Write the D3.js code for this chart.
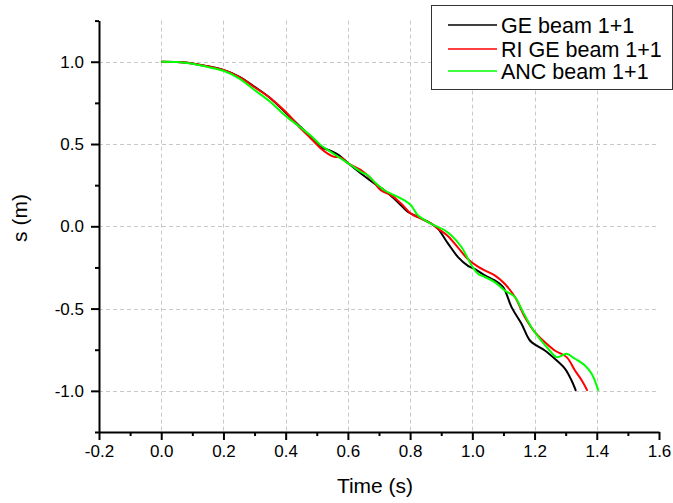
<!DOCTYPE html>
<html>
<head>
<meta charset="utf-8">
<script src="https://cdn.jsdelivr.net/npm/d3@7"></script>
<style>
  body { margin: 0; background: #fff; }
  svg { display: block; font-family: "Liberation Sans", Arial, sans-serif; }
</style>
</head>
<body>
<svg id="chart" width="673" height="503"></svg>
<script>
// series data: [time (s), s (m)]
const geBeam = [
  [0, 1.0], [0.05, 0.998], [0.1, 0.99], [0.15, 0.972], [0.2, 0.95], [0.25, 0.91],
  [0.3, 0.848], [0.35, 0.78], [0.4, 0.69], [0.448, 0.604], [0.481, 0.544], [0.513, 0.483],
  [0.545, 0.458], [0.572, 0.432], [0.602, 0.381], [0.642, 0.321], [0.685, 0.26],
  [0.717, 0.219], [0.76, 0.148], [0.793, 0.087], [0.825, 0.057], [0.868, 0.016],
  [0.889, -0.014], [0.922, -0.105], [0.954, -0.187], [0.986, -0.24], [1.01, -0.262],
  [1.04, -0.298], [1.072, -0.329], [1.099, -0.369], [1.126, -0.491], [1.158, -0.592],
  [1.185, -0.694], [1.206, -0.724], [1.233, -0.755], [1.265, -0.805], [1.298, -0.866],
  [1.319, -0.937], [1.333, -1.0]
];
const riGeBeam = [
  [0, 1.0], [0.05, 0.998], [0.1, 0.99], [0.15, 0.972], [0.2, 0.95], [0.25, 0.908],
  [0.3, 0.845], [0.35, 0.78], [0.4, 0.696], [0.448, 0.595], [0.481, 0.534], [0.513, 0.473],
  [0.535, 0.442], [0.556, 0.422], [0.577, 0.418], [0.602, 0.381], [0.642, 0.341],
  [0.674, 0.29], [0.706, 0.219], [0.739, 0.189], [0.771, 0.138], [0.803, 0.077],
  [0.835, 0.047], [0.868, 0.016], [0.889, -0.014], [0.922, -0.06], [0.954, -0.13],
  [0.986, -0.2], [1.018, -0.245], [1.04, -0.268], [1.072, -0.298], [1.104, -0.349],
  [1.137, -0.43], [1.169, -0.552], [1.201, -0.643], [1.233, -0.704], [1.265, -0.755],
  [1.303, -0.795], [1.33, -0.876], [1.352, -0.937], [1.37, -1.0]
];
const ancBeam = [
  [0, 1.0], [0.05, 0.998], [0.1, 0.988], [0.15, 0.968], [0.2, 0.945], [0.25, 0.899],
  [0.3, 0.828], [0.35, 0.757], [0.4, 0.67], [0.448, 0.6], [0.481, 0.55], [0.513, 0.493],
  [0.545, 0.452], [0.577, 0.412], [0.61, 0.371], [0.642, 0.331], [0.664, 0.31],
  [0.685, 0.27], [0.717, 0.219], [0.749, 0.189], [0.782, 0.158], [0.803, 0.128],
  [0.825, 0.067], [0.857, 0.026], [0.889, -0.004], [0.911, -0.024], [0.932, -0.055],
  [0.965, -0.126], [0.997, -0.235], [1.018, -0.288], [1.04, -0.308], [1.072, -0.339],
  [1.104, -0.39], [1.137, -0.43], [1.163, -0.521], [1.19, -0.613], [1.217, -0.684],
  [1.244, -0.744], [1.271, -0.795], [1.303, -0.775], [1.33, -0.805], [1.362, -0.846],
  [1.384, -0.897], [1.405, -1.0]
];
const seriesNames = ['GE beam 1+1', 'RI GE beam 1+1', 'ANC beam 1+1'];
const seriesColors = ['#000000', '#ff0000', '#00ff00'];
const xTicks = [-0.2, 0, 0.2, 0.4, 0.6, 0.8, 1.0, 1.2, 1.4, 1.6];
const xMinor = [-0.1, 0.1, 0.3, 0.5, 0.7, 0.9, 1.1, 1.3, 1.5];
const yTicks = [-1.0, -0.5, 0, 0.5, 1.0];
const yMinor = [-1.25, -0.75, -0.25, 0.25, 0.75, 1.25];

const svg = d3.select('#chart');

const x = d3.scaleLinear().domain([-0.2, 1.6]).range([99, 659]);
const y = d3.scaleLinear().domain([-1.25, 1.25]).range([432, 20.6]);

// dashed grid
const grid = svg.append('g').attr('stroke', '#c8c8c8').attr('stroke-dasharray', '4,3').attr('stroke-width', 1);
grid.selectAll('.vg')
  .data(xTicks.filter(d => d > -0.2 && d < 1.6))
  .enter().append('line')
  .attr('x1', d => Math.round(x(d)) + 0.5).attr('x2', d => Math.round(x(d)) + 0.5)
  .attr('y1', y.range()[1]).attr('y2', y.range()[0]);
grid.selectAll('.hg')
  .data(yTicks)
  .enter().append('line')
  .attr('y1', d => Math.round(y(d)) + 0.5).attr('y2', d => Math.round(y(d)) + 0.5)
  .attr('x1', x.range()[0]).attr('x2', x.range()[1]);

// curves
const line = d3.line()
  .x(d => x(d[0]))
  .y(d => y(d[1]))
  .curve(d3.curveCatmullRom);

[geBeam, riGeBeam, ancBeam].forEach((s, i) => {
  svg.append('path')
    .datum(s)
    .attr('fill', 'none')
    .attr('stroke', seriesColors[i])
    .attr('stroke-width', 2)
    .attr('d', line);
});

// axes (plain hyphen for negatives, like the original)
const fmt = d => d3.format('.1f')(d).replace('−', '-');
svg.append('g')
  .attr('transform', `translate(0,${y.range()[0]})`)
  .call(d3.axisBottom(x).tickValues(xTicks).tickFormat(fmt).tickSize(8).tickSizeOuter(0).tickPadding(5));
svg.append('g')
  .attr('transform', `translate(0,${y.range()[0]})`)
  .call(d3.axisBottom(x).tickValues(xMinor).tickFormat('').tickSize(4).tickSizeOuter(0))
  .call(g => g.select('.domain').remove());

svg.append('g')
  .attr('transform', `translate(${x.range()[0]},0)`)
  .call(d3.axisLeft(y).tickValues(yTicks).tickFormat(fmt).tickSize(8).tickSizeOuter(0).tickPadding(7));
svg.append('g')
  .attr('transform', `translate(${x.range()[0]},0)`)
  .call(d3.axisLeft(y).tickValues(yMinor).tickFormat('').tickSize(4).tickSizeOuter(0))
  .call(g => g.select('.domain').remove());

svg.selectAll('.domain, .tick line').attr('stroke', '#000').attr('stroke-width', 2);
svg.selectAll('.tick text')
  .attr('fill', '#000')
  .style('font-size', '17px')
  .style('font-family', '"Liberation Sans", Arial, sans-serif');

// axis titles
svg.append('text')
  .attr('x', 375).attr('y', 493)
  .attr('text-anchor', 'middle')
  .style('font-size', '21px')
  .text('Time (s)');
svg.append('text')
  .attr('transform', 'translate(27,218) rotate(-90)')
  .attr('text-anchor', 'middle')
  .style('font-size', '21px')
  .text('s (m)');

// legend
const legend = svg.append('g');
legend.append('rect')
  .attr('x', 431.5).attr('y', 5.5)
  .attr('width', 241).attr('height', 84)
  .attr('fill', '#fff')
  .attr('stroke', '#333').attr('stroke-width', 1);
const rowY = [25, 49, 71];
seriesNames.forEach((name, i) => {
  legend.append('line')
    .attr('x1', 448).attr('x2', 497)
    .attr('y1', rowY[i]).attr('y2', rowY[i])
    .attr('stroke', seriesColors[i]).attr('stroke-width', 1.5);
  legend.append('text')
    .attr('x', 501).attr('y', rowY[i] + 7.5)
    .style('font-size', '21.5px')
    .text(name);
});
</script>
</body>
</html>
